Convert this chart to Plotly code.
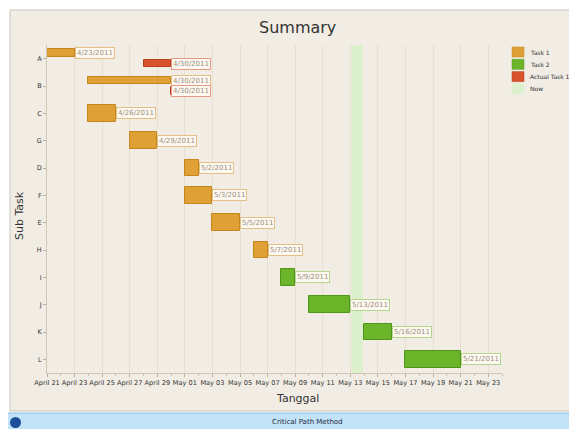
import pandas as pd
import plotly.graph_objects as go

# ---------------- data ----------------
categories = ["A", "B", "C", "G", "D", "F", "E", "H", "I", "J", "K", "L"]

task1_names = ["A", "B", "C", "G", "D", "F", "E", "H"]
task1_start = ["2011-04-21", "2011-04-24", "2011-04-24", "2011-04-27",
               "2011-05-01", "2011-05-01", "2011-05-03", "2011-05-06"]
task1_end = ["2011-04-23", "2011-04-30", "2011-04-26", "2011-04-29",
             "2011-05-02", "2011-05-03", "2011-05-05", "2011-05-07"]

task2_names = ["I", "J", "K", "L"]
task2_start = ["2011-05-08", "2011-05-10", "2011-05-14", "2011-05-17"]
task2_end = ["2011-05-09", "2011-05-13", "2011-05-16", "2011-05-21"]

actual_names = ["A", "B"]
actual_start = ["2011-04-28", "2011-04-30"]
actual_end = ["2011-04-30", "2011-04-30"]

now_start = "2011-05-13 02:00"
now_end = "2011-05-13 22:00"

legend_names = ["Task 1", "Task 2", "Actual Task 1", "Now"]

x_range = ["2011-04-21", "2011-05-24"]
tick_dates = pd.date_range("2011-04-21", "2011-05-23", freq="2D")
tick_labels = [d.strftime("%B %d") for d in tick_dates]

# ---------------- styles ----------------
# The page body has an 8px margin, so the figure is drawn 8px in from the
# window's top-left corner; size it to fill the remaining window.
OFF = 8
WIN_W, WIN_H = 577, 429
W, H = WIN_W - OFF, WIN_H - OFF
ORANGE = "#dfa136"
ORANGE_LINE = "#c5861d"
GREEN = "#6cb52a"
GREEN_LINE = "#4f951a"
RED = "#d8532b"
RED_LINE = "#b83e1c"
NOW = "#ddf0cd"
FONT = "DejaVu Sans"


def px_x(p):
    return (p - OFF) / W


def px_y(p):
    return 1 - (p - OFF) / H


def dur_ms(s, e):
    return [(pd.Timestamp(b) - pd.Timestamp(a)).total_seconds() * 1000 for a, b in zip(s, e)]


def label(d):
    t = pd.Timestamp(d)
    return f"{t.month}/{t.day}/{t.year}"


has_actual = set(actual_names)
t1_width = [0.28 if n in has_actual else 0.6 for n in task1_names]
t1_offset = [-0.34 if n in has_actual else -0.3 for n in task1_names]

fig = go.Figure()

fig.add_trace(go.Bar(
    name=legend_names[0], orientation="h", y=task1_names, base=task1_start,
    x=dur_ms(task1_start, task1_end), width=t1_width, offset=t1_offset,
    marker=dict(color=ORANGE, line=dict(color=ORANGE_LINE, width=1)),
))
fig.add_trace(go.Bar(
    name=legend_names[1], orientation="h", y=task2_names, base=task2_start,
    x=dur_ms(task2_start, task2_end), width=0.6, offset=-0.3,
    marker=dict(color=GREEN, line=dict(color=GREEN_LINE, width=1)),
))
fig.add_trace(go.Bar(
    name=legend_names[2], orientation="h", y=actual_names, base=actual_start,
    x=dur_ms(actual_start, actual_end), width=0.28, offset=0.04,
    marker=dict(color=RED, line=dict(color=RED_LINE, width=1)),
))

# ---------------- shapes ----------------
shapes = [
    # chart panel
    dict(type="rect", xref="paper", yref="paper", x0=px_x(10), x1=px_x(580),
         y0=px_y(411), y1=px_y(10),
         fillcolor="#f1ede5", line=dict(color="#c9c4bb", width=1), layer="below"),
    # status bar
    dict(type="rect", xref="paper", yref="paper", x0=px_x(0), x1=px_x(580), y0=px_y(432),
         y1=px_y(413), fillcolor="#c2e2f8", line=dict(color="#8fbfe6", width=1), layer="below"),
    dict(type="circle", xref="paper", yref="paper", x0=px_x(10), x1=px_x(21),
         y0=px_y(428), y1=px_y(417), fillcolor="#1c4f9a", line=dict(width=0), layer="above"),
    # now band
    dict(type="rect", xref="x", yref="y domain", x0=now_start, x1=now_end,
         y0=0, y1=1, fillcolor=NOW, line=dict(width=0), layer="below"),
]

# ---------------- annotations ----------------
ann = []
cat_index = {c: i for i, c in enumerate(categories)}


def add_labels(names, ends, offsets, border):
    for n, e, o in zip(names, ends, offsets):
        ann.append(dict(x=e, y=cat_index[n] + o, xref="x", yref="y",
                        text=label(e), showarrow=False, xanchor="left",
                        yanchor="middle", font=dict(size=7, color="#9a8f7e", family=FONT),
                        bgcolor="#fdf9f1", bordercolor=border, borderwidth=1,
                        borderpad=1))


add_labels(task1_names, task1_end,
           [-0.2 if n in has_actual else 0 for n in task1_names], "#e2bf86")
add_labels(task2_names, task2_end, [0] * len(task2_names), "#b2d68e")
add_labels(actual_names, actual_end, [0.18] * len(actual_names), "#e59a86")

# title, axis titles, status bar text
ann.append(dict(x=px_x(297), y=px_y(27), xref="paper", yref="paper", text="Summary",
                xanchor="center", yanchor="middle",
                showarrow=False, font=dict(size=16, color="#333333", family=FONT)))
ann.append(dict(x=px_x(297), y=px_y(398), xref="paper", yref="paper", text="Tanggal",
                xanchor="center", yanchor="middle",
                showarrow=False, font=dict(size=11, color="#333333", family=FONT)))
ann.append(dict(x=px_x(19), y=px_y(216), xref="paper", yref="paper", text="Sub Task",
                xanchor="center", yanchor="middle",
                showarrow=False, textangle=-90, font=dict(size=11, color="#333333", family=FONT)))
ann.append(dict(x=px_x(307), y=px_y(422), xref="paper", yref="paper", text="Critical Path Method",
                xanchor="center", yanchor="middle",
                showarrow=False, font=dict(size=7, color="#1a2a3a", family=FONT)))

# manual legend
leg_colors = [ORANGE, GREEN, RED, NOW]
leg_lines = [ORANGE_LINE, GREEN_LINE, RED_LINE, NOW]
for i, (nm, c, lc) in enumerate(zip(legend_names, leg_colors, leg_lines)):
    yc = 52 + i * 12.3
    shapes.append(dict(type="rect", xref="paper", yref="paper",
                       x0=px_x(512), x1=px_x(524), y0=px_y(yc + 5), y1=px_y(yc - 5),
                       fillcolor=c, line=dict(color=lc, width=0.5)))
    ann.append(dict(x=px_x(528), y=px_y(yc), xref="paper", yref="paper", text=nm,
                    showarrow=False, xanchor="left", yanchor="middle",
                    font=dict(size=6, color="#333333", family=FONT)))

fig.update_layout(
    width=W, height=H, margin=dict(l=0, r=0, t=0, b=0, autoexpand=False),
    paper_bgcolor="white", plot_bgcolor="#fcf8f0",
    barmode="overlay", bargap=0,
    font=dict(family=FONT),
    showlegend=False,
    annotations=ann,
    shapes=shapes,
    xaxis=dict(domain=[px_x(47), px_x(502)], type="date", range=x_range, automargin=False,
               tickvals=list(tick_dates), ticktext=tick_labels, tickangle=0,
               tickfont=dict(size=6.6, color="#333333", family=FONT),
               showgrid=True, gridcolor="#eadfcd", gridwidth=1,
               showline=True, linecolor="#cfc6b5", ticks="outside", ticklen=3, tickcolor="#b8b0a0",
               minor=dict(dtick=86400000, ticks="outside", ticklen=2, tickcolor="#c8c0b0",
                          showgrid=True, gridcolor="#f5eee2"),
               zeroline=False),
    yaxis=dict(domain=[px_y(373), px_y(45)], type="category", categoryorder="array",
               categoryarray=categories, range=[len(categories) - 0.5, -0.5], automargin=False,
               tickfont=dict(size=6.5, color="#333333", family=FONT),
               showgrid=False, showline=True, linecolor="#cfc6b5", ticks="outside", ticklen=3,
               tickcolor="#b8b0a0", zeroline=False),
)

fig.write_html("out.html")
